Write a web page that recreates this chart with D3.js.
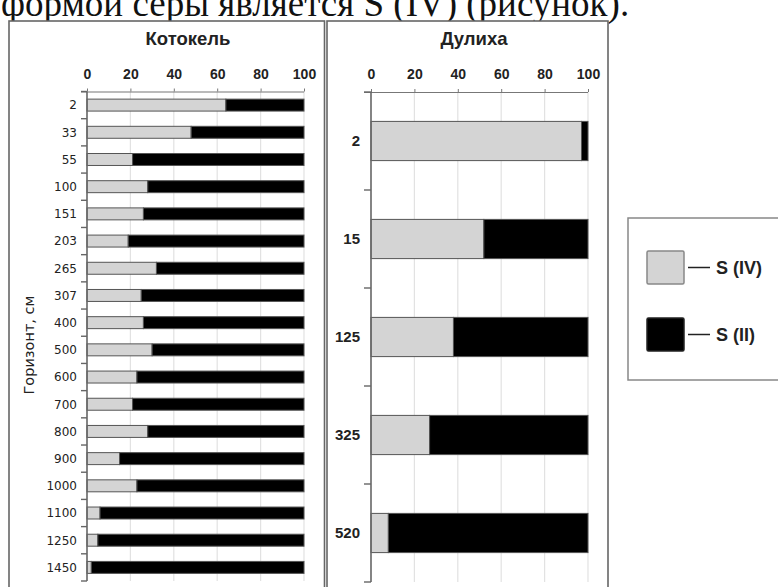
<!DOCTYPE html>
<html>
<head>
<meta charset="utf-8">
<script src="https://cdn.jsdelivr.net/npm/d3@7"></script>
<style>
  html, body { margin: 0; padding: 0; background: #fff; }
  svg { display: block; }
</style>
</head>
<body>
<svg id="chart" width="778" height="587"></svg>
<script>
// Sulfur forms by depth (horizon, cm), percent of total
const kotokelDepths = ["2", "33", "55", "100", "151", "203", "265", "307", "400", "500", "600", "700", "800", "900", "1000", "1100", "1250", "1450"];
const kotokelS4 = [64, 48, 21, 28, 26, 19, 32, 25, 26, 30, 23, 21, 28, 15, 23, 6, 5, 2];
const kotokelS2 = [36, 52, 79, 72, 74, 81, 68, 75, 74, 70, 77, 79, 72, 85, 77, 94, 95, 98];

const dulikhaDepths = ["2", "15", "125", "325", "520"];
const dulikhaS4 = [97, 52, 38, 27, 8];
const dulikhaS2 = [3, 48, 62, 73, 92];

const percentTicks = [0, 20, 40, 60, 80, 100];
const seriesNames = ["S (IV)", "S (II)"];
const seriesFill = ["#d4d4d4", "#000000"];

const svg = d3.select("#chart");
const sansBold = "'Liberation Sans', Arial, sans-serif";

// Running text line above the figure
svg.append("text")
  .attr("x", 1).attr("y", 16)
  .attr("font-family", "'Liberation Serif', 'Times New Roman', serif")
  .attr("font-size", 37)
  .attr("fill", "#111")
  .text("формой серы является S (IV) (рисунок).");

// Panel frames (white backgrounds sit over the text line's descenders)
svg.append("rect").attr("x", 9).attr("y", 21).attr("width", 315.5).attr("height", 600)
  .attr("fill", "#fff").attr("stroke", "#666").attr("stroke-width", 1.6);
svg.append("rect").attr("x", 327).attr("y", 21).attr("width", 281).attr("height", 600)
  .attr("fill", "#fff").attr("stroke", "#666").attr("stroke-width", 1.6);

function drawPanel(opts) {
  const { title, titleX, depths, s4, s2, x0, x1, y0, y1, pad, catFont, catWeight, catSize, tickLen } = opts;
  const g = svg.append("g");

  const x = d3.scaleLinear().domain([0, 100]).range([x0, x1]);
  const y = d3.scaleBand().domain(depths).range([y0, y1])
    .paddingInner(pad).paddingOuter(pad / 2);
  const gap = y.step() * pad / 2;

  // Title
  g.append("text")
    .attr("x", titleX).attr("y", 45)
    .attr("text-anchor", "middle")
    .attr("font-family", sansBold).attr("font-weight", "bold").attr("font-size", 18.5)
    .attr("fill", "#222")
    .text(title);

  // Vertical gridlines
  g.selectAll("line.grid").data(percentTicks.slice(1)).join("line")
    .attr("class", "grid")
    .attr("x1", d => x(d)).attr("x2", d => x(d))
    .attr("y1", y0).attr("y2", y1)
    .attr("stroke", "#e2e2e2").attr("stroke-width", 1.2);

  // Top percent axis
  const xAxis = d3.axisTop(x).tickValues(percentTicks).tickSize(3).tickPadding(10).tickSizeOuter(0);
  const xg = g.append("g").attr("transform", `translate(0,${y0})`).call(xAxis);
  xg.select(".domain").attr("stroke", "#777").attr("stroke-width", 1.2)
    .attr("d", `M${x0 - tickLen},0.5H${x1}`);
  xg.selectAll(".tick line").attr("stroke", "#777");
  xg.selectAll(".tick text")
    .attr("font-family", sansBold).attr("font-weight", "bold").attr("font-size", 14)
    .attr("fill", "#222");

  // Stacked bars
  const rows = depths.map((d, i) => ({ depth: d, parts: [s4[i], s2[i]] }));
  const rowG = g.selectAll("g.row").data(rows).join("g").attr("class", "row");
  rowG.selectAll("rect").data(r => {
    let acc = 0;
    return r.parts.map((v, k) => {
      const seg = { depth: r.depth, from: acc, to: acc + v, k };
      acc += v;
      return seg;
    });
  }).join("rect")
    .attr("x", d => x(d.from))
    .attr("y", d => y(d.depth))
    .attr("width", d => x(d.to) - x(d.from))
    .attr("height", y.bandwidth())
    .attr("fill", d => seriesFill[d.k])
    .attr("stroke", "#555").attr("stroke-width", 1);

  // Left category axis: line, boundary ticks and depth labels
  g.append("line")
    .attr("x1", x0).attr("x2", x0).attr("y1", y0).attr("y2", y1)
    .attr("stroke", "#666").attr("stroke-width", 1.6);
  const bounds = depths.map(d => y(d) - gap).concat([y1]);
  g.selectAll("line.ctick").data(bounds).join("line")
    .attr("class", "ctick")
    .attr("x1", x0 - tickLen).attr("x2", x0)
    .attr("y1", d => d).attr("y2", d => d)
    .attr("stroke", "#666").attr("stroke-width", 1.4);
  g.selectAll("text.cat").data(depths).join("text")
    .attr("class", "cat")
    .attr("x", x0 - tickLen - 4)
    .attr("y", d => y(d) + y.bandwidth() / 2)
    .attr("dy", "0.36em")
    .attr("text-anchor", "end")
    .attr("font-family", catFont).attr("font-weight", catWeight).attr("font-size", catSize)
    .attr("fill", "#222")
    .text(d => d);

  return { x, y };
}

drawPanel({
  title: "Котокель", titleX: 188,
  depths: kotokelDepths, s4: kotokelS4, s2: kotokelS2,
  x0: 87, x1: 304, y0: 91.5, y1: 581, pad: 0.56,
  catFont: "'DejaVu Sans', Verdana, sans-serif", catWeight: "normal", catSize: 12, tickLen: 6
});

drawPanel({
  title: "Дулиха", titleX: 474,
  depths: dulikhaDepths, s4: dulikhaS4, s2: dulikhaS2,
  x0: 371, x1: 588, y0: 92, y1: 582, pad: 0.6,
  catFont: sansBold, catWeight: "bold", catSize: 15, tickLen: 7
});

// Vertical axis title of the left panel
svg.append("text")
  .attr("transform", "translate(34,345) rotate(-90)")
  .attr("text-anchor", "middle")
  .attr("font-family", "'DejaVu Sans', Verdana, sans-serif")
  .attr("font-size", 14.5)
  .attr("fill", "#222")
  .text("Горизонт, см");

// Legend
const legend = svg.append("g");
legend.append("rect").attr("x", 628).attr("y", 218).attr("width", 170).attr("height", 162)
  .attr("fill", "#fff").attr("stroke", "#888").attr("stroke-width", 1.5);
const legendRows = legend.selectAll("g.item").data(seriesNames).join("g")
  .attr("class", "item")
  .attr("transform", (d, i) => `translate(647,${251 + i * 67})`);
legendRows.append("rect")
  .attr("width", 37).attr("height", 33).attr("rx", 1.5)
  .attr("fill", (d, i) => seriesFill[i])
  .attr("stroke", (d, i) => i === 0 ? "#888" : "#222").attr("stroke-width", 1.5);
legendRows.append("line")
  .attr("x1", 41).attr("x2", 63).attr("y1", 16.5).attr("y2", 16.5)
  .attr("stroke", "#222").attr("stroke-width", 1.5);
legendRows.append("text")
  .attr("x", 69).attr("y", 16.5).attr("dy", "0.36em")
  .attr("font-family", sansBold).attr("font-weight", "bold").attr("font-size", 18)
  .attr("fill", "#222")
  .text(d => d);
</script>
</body>
</html>
